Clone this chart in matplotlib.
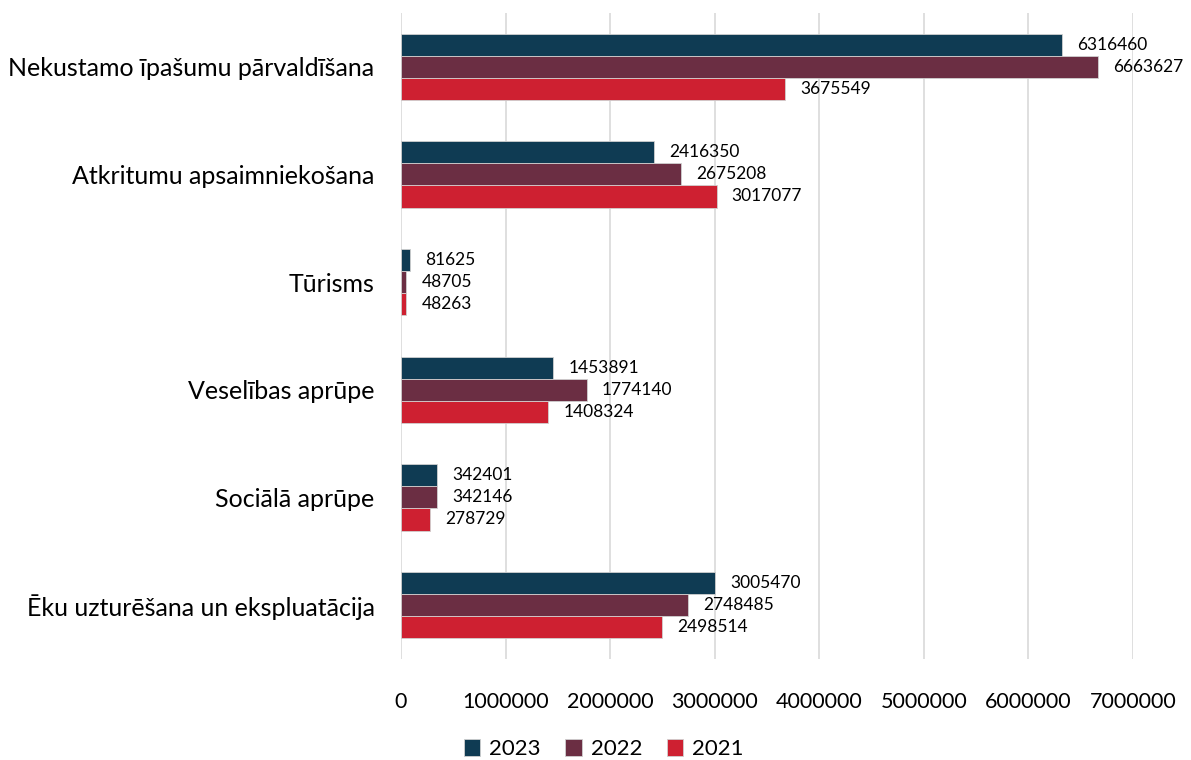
import numpy as np
from matplotlib import pyplot as plt

plt.rcParams['font.family'] = ['Lato', 'DejaVu Sans']

categories = ["Ēku uzturēšana un ekspluatācija", "Sociālā aprūpe", "Veselības aprūpe",
              "Tūrisms", "Atkritumu apsaimniekošana", "Nekustamo īpašumu pārvaldīšana"]
v2023 = [3005470, 342401, 1453891, 81625, 2416350, 6316460]
v2022 = [2748485, 342146, 1774140, 48705, 2675208, 6663627]
v2021 = [2498514, 278729, 1408324, 48263, 3017077, 3675549]
years = ["2023", "2022", "2021"]
colors = ["#0F3B53", "#6B2E43", "#CE2031"]

fig = plt.figure(figsize=(11.91, 7.6), dpi=100)
ax = fig.add_axes([0.3367, 0.133, 0.6146, 0.85])

y = np.arange(len(categories))
h = 0.205
series = [v2023, v2022, v2021]
offsets = [h, 0, -h]
for vals, off, col, lab in zip(series, offsets, colors, years):
    bars = ax.barh(y + off, vals, height=h, color=col, label=lab,
                   edgecolor="#D0D0D0", linewidth=0.6, zorder=2)
    for b, v in zip(bars, vals):
        ax.annotate(str(v), (b.get_width(), b.get_y() + b.get_height() / 2),
                    xytext=(11, 0), textcoords="offset points",
                    va="center", ha="left", fontsize=12.5)

ax.set_xlim(0, 7000000)
ax.set_ylim(-0.5, len(categories) - 0.5)
ax.set_xticks(np.arange(0, 7000001, 1000000))
ax.xaxis.set_major_formatter(plt.FuncFormatter(lambda x, p: "%d" % x))
ax.set_yticks(y)
ax.set_yticklabels(categories)
ax.tick_params(axis="x", length=0, pad=24, labelsize=15.5)
ax.tick_params(axis="y", length=0, pad=19, labelsize=18)
ax.grid(axis="x", color="#D9D9D9", linewidth=1.2, zorder=0)
for s in ax.spines.values():
    s.set_visible(False)

fig.legend(loc="center", bbox_to_anchor=(0.507, 0.014), ncol=3, frameon=False,
           fontsize=16, handlelength=0.75, handleheight=0.75, handletextpad=0.4,
           columnspacing=1.1)

fig.savefig("out.png", dpi=100)
